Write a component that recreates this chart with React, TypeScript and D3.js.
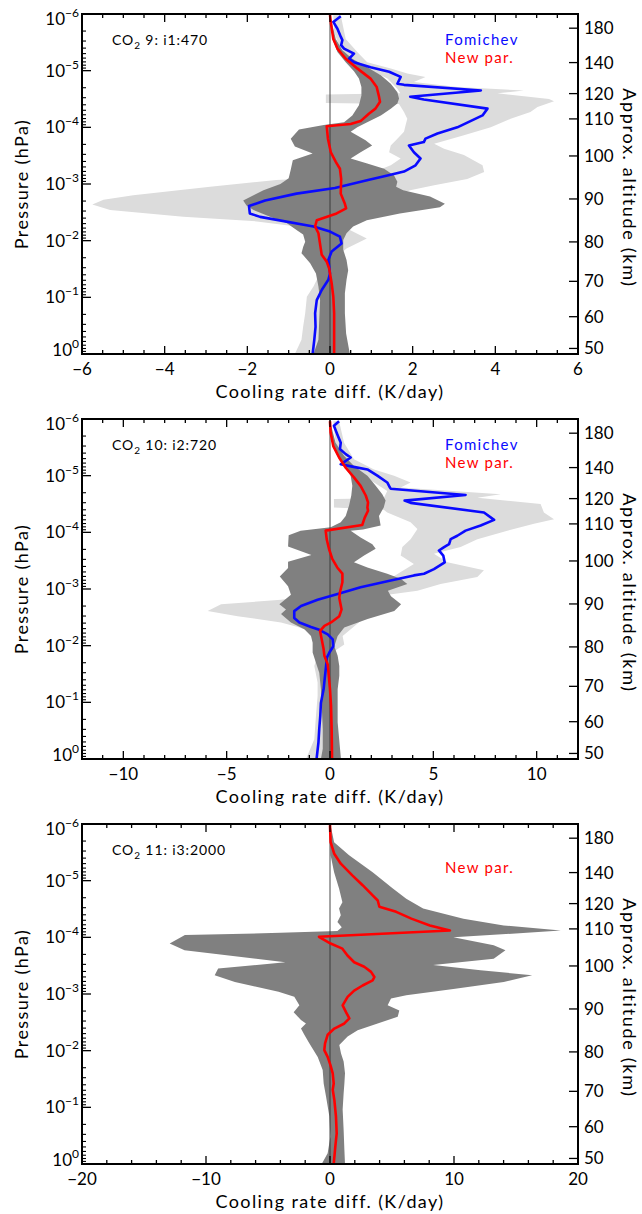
import React from "react";
import * as d3 from "d3";

type Pt = [number, number]; // [log10 pressure (hPa), cooling-rate difference (K/day)]

const W = 642;
const H = 1214;
const FONT = "Lato, 'Open Sans', 'DejaVu Sans', sans-serif";

// Right-hand axis: approximate altitude (km) and the pressure (hPa) it sits at
const altKm = [50, 60, 70, 80, 90, 100, 110, 120, 140, 180];
const altHPa = [0.798, 0.2196, 0.0522, 0.01052, 0.001836, 3.2e-4, 7.1e-5, 2.54e-5, 7.2e-6, 1.78e-6];
const pressureExps = [-6, -5, -4, -3, -2, -1, 0];

// Panel settings
const co2Index = ["9", "10", "11"];
const runLabel = ["i1:470", "i2:720", "i3:2000"];
const xDomains: [number, number][] = [[-6, 6], [-12, 12], [-20, 20]];
const xMajor = [[-6, -4, -2, 0, 2, 4, 6], [-10, -5, 0, 5, 10], [-20, -10, 0, 10, 20]];
const xMinorStep = [0.5, 1, 2];
const showFomichev = [true, true, false];

// ---------- Panel 1: CO2 9 ----------
const p1Fomichev: Pt[] = [[-5.96,0.26],[-5.86,0.08],[-5.74,0.18],[-5.6,0.26],[-5.54,0.3],[-5.45,0.27],[-5.39,0.34],[-5.3,0.58],[-5.21,0.46],[-5.15,0.58],[-5.06,0.98],[-4.98,1.43],[-4.89,1.71],[-4.77,1.63],[-4.75,1.79],[-4.65,3.65],[-4.54,1.94],[-4.49,2.27],[-4.33,3.81],[-4.21,3.69],[-4.0,3.08],[-3.89,2.6],[-3.8,2.31],[-3.74,2.27],[-3.68,1.91],[-3.56,2.03],[-3.45,2.19],[-3.33,2.07],[-3.22,1.79],[-3.15,1.39],[-3.07,0.92],[-2.93,0.12],[-2.83,-0.81],[-2.71,-1.57],[-2.61,-1.96],[-2.48,-1.94],[-2.42,-1.69],[-2.25,-0.4],[-2.16,0.0],[-2.07,0.24],[-1.95,0.28],[-1.81,0.04],[-1.66,-0.04],[-1.42,0.0],[-1.31,-0.04],[-1.13,-0.2],[-0.95,-0.32],[-0.72,-0.36],[-0.48,-0.35],[-0.25,-0.38],[0,-0.42]];
const p1NewPar: Pt[] = [[-5.98,0],[-5.8,0.03],[-5.56,0.08],[-5.39,0.18],[-5.21,0.38],[-5.04,0.66],[-4.86,0.98],[-4.71,1.13],[-4.56,1.18],[-4.45,1.21],[-4.33,1.1],[-4.24,0.94],[-4.11,0.74],[-4.06,0.5],[-4.02,-0.08],[-3.8,-0.05],[-3.56,0.02],[-3.39,0.14],[-3.27,0.24],[-3.09,0.27],[-2.83,0.26],[-2.65,0.36],[-2.57,0.39],[-2.48,0.16],[-2.36,-0.32],[-2.25,-0.36],[-2.13,-0.28],[-1.89,-0.23],[-1.75,-0.2],[-1.63,-0.08],[-1.51,-0.02],[-1.42,0],[-1.25,0.04],[-1.01,0.08],[-0.72,0.1],[0,0.1]];
const p1NewMin: Pt[] = [[-5.98,0],[-5.56,0.06],[-5.33,0.18],[-5.15,0.38],[-4.99,0.58],[-4.86,0.7],[-4.71,0.76],[-4.56,0.76],[-4.39,0.7],[-4.21,0.54],[-4.09,0.34],[-4.04,-0.15],[-3.96,-0.75],[-3.8,-0.95],[-3.66,-0.85],[-3.54,-0.42],[-3.42,-0.9],[-3.25,-0.95],[-3.1,-1.0],[-3.0,-1.2],[-2.89,-1.61],[-2.71,-2.1],[-2.62,-2.02],[-2.54,-1.85],[-2.42,-1.45],[-2.31,-1.05],[-2.19,-0.81],[-2.11,-0.65],[-1.98,-0.6],[-1.89,-0.65],[-1.78,-0.69],[-1.6,-0.48],[-1.42,-0.34],[-1.19,-0.28],[-0.95,-0.24],[-0.6,-0.26],[-0.25,-0.28],[0,-0.4]];
const p1NewMax: Pt[] = [[-5.98,0],[-5.56,0.14],[-5.36,0.3],[-5.21,0.54],[-5.06,0.9],[-4.92,1.23],[-4.77,1.47],[-4.62,1.63],[-4.51,1.67],[-4.42,1.63],[-4.33,1.47],[-4.21,1.23],[-4.09,0.9],[-4.0,0.66],[-3.92,0.5],[-3.77,0.86],[-3.68,1.02],[-3.56,0.74],[-3.45,0.5],[-3.36,0.9],[-3.27,1.31],[-3.15,1.55],[-3.04,1.63],[-2.95,1.6],[-2.89,1.77],[-2.78,2.42],[-2.65,2.78],[-2.59,2.66],[-2.48,1.69],[-2.36,0.89],[-2.25,0.56],[-2.13,0.4],[-2.01,0.32],[-1.84,0.32],[-1.66,0.4],[-1.48,0.44],[-1.31,0.4],[-1.07,0.36],[-0.72,0.36],[-0.36,0.39],[0,0.48]];
const p1FomMin: Pt[] = [[-5.98,0.08],[-5.68,0.1],[-5.45,0.22],[-5.21,0.46],[-5.09,0.66],[-4.98,1.06],[-4.86,1.39],[-4.68,1.63],[-4.6,1.7],[-4.58,-0.1],[-4.43,-0.1],[-4.41,1.67],[-4.27,1.79],[-4.15,1.87],[-4.04,1.83],[-3.92,1.79],[-3.8,1.63],[-3.68,1.47],[-3.56,1.43],[-3.45,1.71],[-3.33,1.47],[-3.21,1.06],[-3.15,0.9],[-3.07,-1.3],[-2.95,-2.9],[-2.8,-4.76],[-2.72,-5.48],[-2.64,-5.75],[-2.54,-5.32],[-2.42,-3.55],[-2.34,-1.77],[-2.25,-0.81],[-2.13,-0.4],[-1.6,-0.2],[-1.31,-0.32],[-1.19,-0.4],[-1.01,-0.56],[-0.72,-0.6],[-0.48,-0.65],[-0.25,-0.69],[0,-0.85]];
const p1FomMax: Pt[] = [[-5.98,0.26],[-5.56,0.38],[-5.33,0.66],[-5.15,0.9],[-5.04,1.47],[-4.95,1.87],[-4.89,2.31],[-4.8,2.03],[-4.71,3.08],[-4.65,4.69],[-4.6,4.05],[-4.5,5.3],[-4.46,5.42],[-4.36,5.02],[-4.27,4.85],[-4.15,4.37],[-4.0,3.89],[-3.86,3.24],[-3.71,2.52],[-3.62,2.76],[-3.51,3.24],[-3.33,3.69],[-3.21,3.73],[-3.09,3.32],[-2.98,2.52],[-2.89,1.94],[-2.71,1.29],[-2.48,0.48],[-2.19,0.48],[-2.04,0.89],[-1.86,0.4],[-1.72,0.16],[-1.31,0.12],[-0.72,0.0],[0,0.16]];

// ---------- Panel 2: CO2 10 ----------
const p2Fomichev: Pt[] = [[-5.96,0.44],[-5.88,0.19],[-5.73,0.35],[-5.58,0.52],[-5.47,0.48],[-5.38,0.76],[-5.32,1.0],[-5.2,0.52],[-5.16,1.08],[-5.11,1.81],[-5.0,2.29],[-4.88,2.77],[-4.79,2.9],[-4.77,2.94],[-4.66,6.56],[-4.56,3.61],[-4.52,3.9],[-4.35,7.45],[-4.22,7.94],[-4.12,7.29],[-4.03,6.56],[-3.94,6.16],[-3.88,5.84],[-3.79,5.76],[-3.74,5.52],[-3.68,5.27],[-3.59,5.48],[-3.47,5.55],[-3.35,5.03],[-3.27,4.55],[-3.24,4.06],[-3.15,2.94],[-3.03,1.48],[-2.91,0.37],[-2.81,-0.6],[-2.7,-1.4],[-2.61,-1.73],[-2.49,-1.73],[-2.41,-1.48],[-2.33,-0.92],[-2.28,-0.52],[-2.2,-0.11],[-2.11,0.13],[-1.99,0.16],[-1.88,-0.03],[-1.79,-0.15],[-1.64,-0.19],[-1.47,-0.24],[-1.23,-0.31],[-0.99,-0.44],[-0.76,-0.47],[-0.53,-0.52],[-0.29,-0.56],[0,-0.65]];
const p2NewPar: Pt[] = [[-5.96,0],[-5.76,0.03],[-5.52,0.16],[-5.32,0.44],[-5.14,0.76],[-4.97,1.16],[-4.82,1.48],[-4.65,1.73],[-4.53,1.84],[-4.44,1.81],[-4.38,1.84],[-4.26,1.68],[-4.13,1.56],[-4.03,-0.21],[-3.88,-0.16],[-3.71,-0.05],[-3.53,0.11],[-3.38,0.35],[-3.27,0.6],[-3.12,0.6],[-2.94,0.48],[-2.84,0.45],[-2.64,0.56],[-2.52,0.45],[-2.41,0.05],[-2.35,-0.27],[-2.26,-0.48],[-2.11,-0.4],[-1.94,-0.31],[-1.82,-0.27],[-1.67,-0.11],[-1.47,-0.06],[-1.23,0],[-0.94,0.05],[-0.53,0.08],[0,0.1]];
const p2NewMin: Pt[] = [[-5.96,0],[-5.58,0.11],[-5.35,0.35],[-5.17,0.68],[-5.0,1.0],[-4.82,1.08],[-4.65,1.03],[-4.47,0.92],[-4.29,0.76],[-4.18,0.52],[-4.09,0.03],[-4.03,-1.42],[-3.95,-2.0],[-3.75,-2.03],[-3.6,-0.9],[-3.48,-2.03],[-3.37,-2.03],[-3.22,-2.43],[-3.05,-2.03],[-2.9,-1.89],[-2.73,-2.45],[-2.64,-2.13],[-2.56,-2.37],[-2.41,-1.89],[-2.29,-1.24],[-2.17,-0.92],[-2.05,-0.84],[-1.88,-0.84],[-1.7,-0.68],[-1.52,-0.52],[-1.23,-0.44],[-0.94,-0.4],[-0.53,-0.35],[-0.18,-0.35],[0,-0.44]];
const p2NewMax: Pt[] = [[-5.96,0],[-5.58,0.27],[-5.35,0.68],[-5.17,1.16],[-5.0,1.81],[-4.82,2.21],[-4.67,2.53],[-4.56,2.69],[-4.44,2.6],[-4.29,2.37],[-4.12,2.45],[-4.05,1.6],[-4.03,1.0],[-3.91,1.48],[-3.79,2.05],[-3.71,2.21],[-3.59,1.65],[-3.47,1.16],[-3.38,1.81],[-3.27,2.77],[-3.18,3.42],[-3.09,3.74],[-2.97,2.8],[-2.87,2.95],[-2.73,3.44],[-2.61,3.11],[-2.47,1.82],[-2.32,0.69],[-2.17,0.37],[-1.99,0.21],[-1.82,0.37],[-1.64,0.45],[-1.47,0.45],[-1.23,0.37],[-0.65,0.37],[0,0.53]];
const p2FomMin: Pt[] = [[-5.96,0.16],[-5.58,0.27],[-5.23,0.6],[-5.11,1.0],[-5.0,1.56],[-4.88,2.13],[-4.73,2.77],[-4.6,2.6],[-4.59,0.19],[-4.44,0.19],[-4.4,2.6],[-4.35,2.77],[-4.18,3.9],[-4.06,4.23],[-3.88,3.9],[-3.74,3.5],[-3.59,3.42],[-3.44,4.06],[-3.3,3.42],[-3.15,2.77],[-3.0,1.97],[-2.9,-0.5],[-2.81,-2.37],[-2.73,-5.27],[-2.61,-5.92],[-2.52,-4.47],[-2.41,-2.37],[-2.33,-1.56],[-2.23,-0.76],[-1.82,-0.6],[-1.64,-0.76],[-1.35,-0.6],[-1.11,-0.6],[-0.76,-0.68],[-0.35,-0.76],[0,-1.16]];
const p2FomMax: Pt[] = [[-5.96,0.44],[-5.58,0.68],[-5.29,1.16],[-5.11,2.13],[-5.0,3.1],[-4.88,3.9],[-4.79,3.42],[-4.67,8.26],[-4.61,7.13],[-4.5,10.19],[-4.35,10.35],[-4.23,10.84],[-4.15,9.87],[-4.03,8.58],[-3.88,7.13],[-3.74,6.32],[-3.62,5.03],[-3.47,5.68],[-3.33,7.45],[-3.21,7.13],[-3.09,5.35],[-2.97,4.23],[-2.9,2.8],[-2.47,1.6],[-2.17,0.61],[-2.02,0.69],[-1.9,0.21],[-1.5,0.05],[0,-0.19]];

// ---------- Panel 3: CO2 11 ----------
const p3NewPar: Pt[] = [[-5.98,0],[-5.68,0.05],[-5.48,0.33],[-5.3,0.87],[-5.09,1.82],[-4.92,2.63],[-4.74,3.44],[-4.65,3.85],[-4.54,3.98],[-4.45,5.34],[-4.33,6.56],[-4.21,8.05],[-4.12,9.67],[-4.01,-0.89],[-3.89,0.05],[-3.8,1.0],[-3.68,1.41],[-3.56,1.95],[-3.48,2.76],[-3.39,3.31],[-3.3,3.58],[-3.24,3.44],[-3.15,2.63],[-3.06,1.95],[-2.95,1.42],[-2.8,1.02],[-2.68,1.29],[-2.57,1.56],[-2.48,1.16],[-2.39,0.35],[-2.28,-0.19],[-2.13,-0.4],[-2.01,-0.46],[-1.89,-0.19],[-1.75,0.03],[-1.6,0.22],[-1.42,0.3],[-1.31,0.22],[-1.13,0.35],[-0.84,0.48],[-0.54,0.54],[-0.31,0.43],[0,0.3]];
const p3NewMin: Pt[] = [[-5.98,0],[-5.45,0.05],[-5.15,0.33],[-4.86,0.73],[-4.62,1.0],[-4.51,0.73],[-4.39,0.87],[-4.27,0.6],[-4.18,0.95],[-4.11,0.6],[-4.08,-4.0],[-4.04,-11.7],[-3.89,-12.93],[-3.77,-11.73],[-3.56,-3.6],[-3.45,-9.02],[-3.33,-9.3],[-3.21,-7.67],[-3.04,-4.15],[-2.95,-2.88],[-2.8,-2.47],[-2.68,-2.93],[-2.54,-2.34],[-2.48,-1.94],[-2.39,-2.34],[-2.28,-2.07],[-2.13,-1.67],[-1.89,-0.99],[-1.66,-0.59],[-1.42,-0.51],[-1.19,-0.32],[-0.84,-0.05],[-0.48,0.03],[-0.19,-0.19],[0,-0.67]];
const p3NewMax: Pt[] = [[-5.98,0.05],[-5.68,0.33],[-5.45,1.54],[-5.15,3.44],[-4.86,5.07],[-4.68,6.15],[-4.51,7.51],[-4.33,10.76],[-4.21,14.01],[-4.12,18.62],[-4.0,9.95],[-3.86,13.2],[-3.77,14.15],[-3.62,13.2],[-3.51,8.32],[-3.42,12.14],[-3.33,16.3],[-3.21,14.01],[-3.09,9.95],[-2.98,6.15],[-2.92,4.92],[-2.8,4.65],[-2.71,5.59],[-2.6,5.46],[-2.48,3.84],[-2.36,2.23],[-2.25,1.42],[-2.1,0.75],[-1.95,0.89],[-1.81,1.1],[-1.6,1.21],[-1.42,1.16],[-1.25,1.1],[-0.96,1.02],[-0.6,1.1],[-0.25,1.16],[0,1.21]];

const fomichevLines = [p1Fomichev, p2Fomichev, null];
const fomichevMin = [p1FomMin, p2FomMin, null];
const fomichevMax = [p1FomMax, p2FomMax, null];
const newParLines = [p1NewPar, p2NewPar, p3NewPar];
const newParMin = [p1NewMin, p2NewMin, p3NewMin];
const newParMax = [p1NewMax, p2NewMax, p3NewMax];

const panelTops = [14, 419, 824];
const PH = 340;
const PL = 82;
const PR = 578;

const DARK = "#808080";
const LIGHT = "#dcdcdc";
const BLUE = "#0a0aff";
const RED = "#ff0000";

function Panel({ idx }: { idx: number }) {
  const top = panelTops[idx];
  const bottom = top + PH;
  const x = d3.scaleLinear().domain(xDomains[idx]).range([PL, PR]);
  const y = d3.scaleLog().domain([1e-6, 1]).range([top, bottom]);
  const line = d3
    .line<Pt>()
    .x((d) => x(d[1]))
    .y((d) => y(Math.pow(10, d[0])));
  const band = (lo: Pt[], hi: Pt[]) => {
    const pts = lo.concat(hi.slice().reverse());
    return (line(pts) || "") + "Z";
  };
  const clipId = `clip${idx}`;
  const [x0, x1] = xDomains[idx];
  const step = xMinorStep[idx];
  const minor: number[] = d3.range(x0, x1 + step / 2, step);
  const major = xMajor[idx];
  const logMinor: number[] = [];
  for (let e = -6; e < 0; e++) for (let m = 2; m <= 9; m++) logMinor.push(m * Math.pow(10, e));
  const fm = fomichevLines[idx];
  const fmin = fomichevMin[idx];
  const fmax = fomichevMax[idx];

  return (
    <g>
      <defs>
        <clipPath id={clipId}>
          <rect x={PL} y={top} width={PR - PL} height={PH} />
        </clipPath>
      </defs>
      <g clipPath={`url(#${clipId})`}>
        {fmin && fmax && <path d={band(fmin, fmax)} fill={LIGHT} stroke="none" />}
        <path d={band(newParMin[idx], newParMax[idx])} fill={DARK} stroke="none" />
        <line x1={x(0)} x2={x(0)} y1={top} y2={bottom} stroke="#333" strokeWidth={0.9} />
        {fm && <path d={line(fm) || ""} fill="none" stroke={BLUE} strokeWidth={2.6} strokeLinejoin="round" />}
        <path d={line(newParLines[idx]) || ""} fill="none" stroke={RED} strokeWidth={2.6} strokeLinejoin="round" />
      </g>

      {/* frame */}
      <rect x={PL} y={top} width={PR - PL} height={PH} fill="none" stroke="#000" strokeWidth={2} />

      {/* bottom & top ticks */}
      {minor.map((v) => {
        const isMajor = major.some((m) => Math.abs(m - v) < 1e-9);
        const len = isMajor ? 8 : 4;
        return (
          <g key={`xt${v}`}>
            <line x1={x(v)} x2={x(v)} y1={bottom} y2={bottom - len} stroke="#000" strokeWidth={1.3} />
            <line x1={x(v)} x2={x(v)} y1={top} y2={top + len} stroke="#000" strokeWidth={1.3} />
          </g>
        );
      })}
      {major.map((v) => (
        <text key={`xl${v}`} x={x(v)} y={bottom + 21} textAnchor="middle" fontSize={17} fontFamily={FONT} fill="#000">
          {v < 0 ? `\u2212${Math.abs(v)}` : `${v}`}
        </text>
      ))}
      <text x={(PL + PR) / 2} y={bottom + 44} textAnchor="middle" fontSize={18} letterSpacing={1.4} fontFamily={FONT} fill="#000">
        Cooling rate diff. (K/day)
      </text>

      {/* left log axis */}
      {pressureExps.map((e) => (
        <line key={`ly${e}`} x1={PL} x2={PL + 9} y1={y(Math.pow(10, e))} y2={y(Math.pow(10, e))} stroke="#000" strokeWidth={1.3} />
      ))}
      {logMinor.map((p) => (
        <line key={`lm${p}`} x1={PL} x2={PL + 4} y1={y(p)} y2={y(p)} stroke="#000" strokeWidth={1.1} />
      ))}
      {pressureExps.map((e, i) => {
        const off = i === 0 ? 5 : i === pressureExps.length - 1 ? -4 : 0;
        return (
          <text key={`yl${e}`} x={PL - 3} y={y(Math.pow(10, e)) + 6 + off} textAnchor="end" fontSize={17} fontFamily={FONT} fill="#000">
            10
            <tspan dy={-8} fontSize={12}>
              {e < 0 ? `\u2212${Math.abs(e)}` : `${e}`}
            </tspan>
          </text>
        );
      })}
      <text
        transform={`translate(21,${top + PH / 2}) rotate(-90)`}
        textAnchor="middle"
        dominantBaseline="central"
        fontSize={18}
        letterSpacing={1.4}
        fontFamily={FONT}
        fill="#000"
      >
        Pressure (hPa)
      </text>

      {/* right altitude axis */}
      {altKm.map((a, i) => (
        <g key={`alt${a}`}>
          <line x1={PR} x2={PR - 9} y1={y(altHPa[i])} y2={y(altHPa[i])} stroke="#000" strokeWidth={1.3} />
          <text x={PR + 6} y={y(altHPa[i]) + 6} fontSize={17} fontFamily={FONT} fill="#000">
            {a}
          </text>
        </g>
      ))}
      <text
        transform={`translate(630,${top + 174}) rotate(90)`}
        textAnchor="middle"
        dominantBaseline="central"
        fontSize={18}
        letterSpacing={1.7}
        fontFamily={FONT}
        fill="#000"
      >
        Approx. altitude (km)
      </text>

      {/* annotations */}
      <text x={112} y={top + 31} fontSize={14} letterSpacing={0.9} fontFamily={FONT} fill="#000">
        CO
        <tspan dy={4} fontSize={10}>2</tspan>
        <tspan dy={-4}>{` ${co2Index[idx]}: ${runLabel[idx]}`}</tspan>
      </text>
      {showFomichev[idx] && (
        <text x={445} y={top + 31} fontSize={15} letterSpacing={1.3} fontFamily={FONT} fill={BLUE}>
          Fomichev
        </text>
      )}
      <text x={445} y={top + 49} fontSize={15} letterSpacing={1.3} fontFamily={FONT} fill={RED}>
        New par.
      </text>
    </g>
  );
}

export default function App() {
  return (
    <div style={{ position: "absolute", left: 0, top: 0, width: W, height: H, background: "#fff" }}>
      <svg width={W} height={H} viewBox={`0 0 ${W} ${H}`} style={{ display: "block" }}>
        <rect x={0} y={0} width={W} height={H} fill="#fff" />
        {[0, 1, 2].map((i) => (
          <Panel key={i} idx={i} />
        ))}
      </svg>
    </div>
  );
}
